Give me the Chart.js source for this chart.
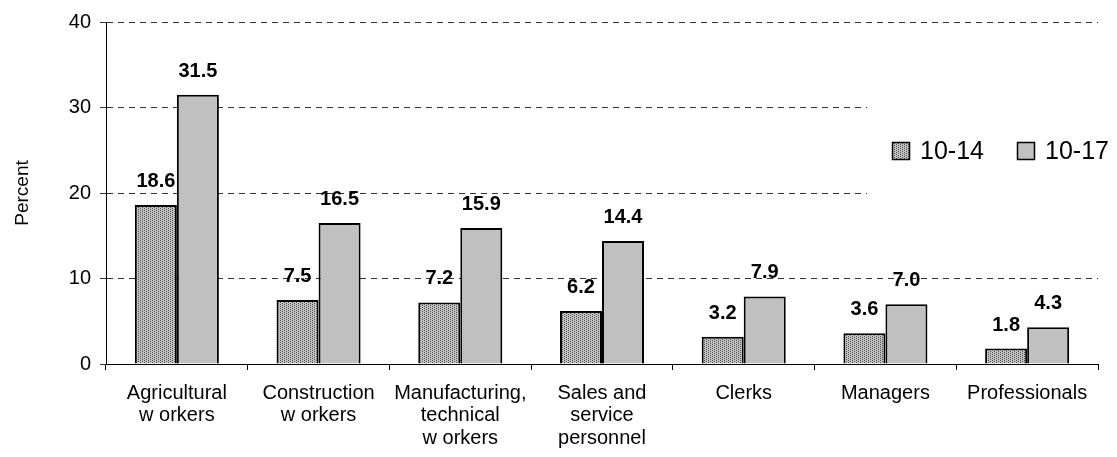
<!DOCTYPE html>
<html>
<head>
<meta charset="utf-8">
<script src="https://cdn.jsdelivr.net/npm/chart.js@4.4.0/dist/chart.umd.min.js"></script>
<style>
  html, body { margin: 0; padding: 0; background: #fff; }
  #wrap { width: 1117px; height: 457px; }
</style>
</head>
<body>
<div id="wrap"><canvas id="jobChart" width="1117" height="457"></canvas></div>
<script>
// Occupation groups and share of working children per age band
const categories = [
  ["Agricultural", "w orkers"],
  ["Construction", "w orkers"],
  ["Manufacturing,", "technical", "w orkers"],
  ["Sales and", "service", "personnel"],
  "Clerks",
  "Managers",
  "Professionals",
];
const ages10to14 = [18.6, 7.5, 7.2, 6.2, 3.2, 3.6, 1.8];
const ages10to17 = [31.5, 16.5, 15.9, 14.4, 7.9, 7.0, 4.3];
const seriesNames = ["10-14", "10-17"];
const yTicks = [0, 10, 20, 30, 40];

const FONT = "Arial, 'Liberation Sans', sans-serif";

// staggered dot fill for the younger age band
function makeStipple() {
  const c = document.createElement("canvas");
  c.width = 4;
  c.height = 2;
  const g = c.getContext("2d");
  g.fillStyle = "#c2c2c2";
  g.fillRect(0, 0, 4, 2);
  g.fillStyle = "#505050";
  g.fillRect(0, 0, 1, 1);
  g.fillRect(2, 1, 1, 1);
  return g.createPattern(c, "repeat");
}
const stipple = makeStipple();
const fills = [stipple, "#c0c0c0"];

// value labels above each bar
const barLabels = {
  id: "barLabels",
  afterDatasetsDraw(chart) {
    const ctx = chart.ctx;
    ctx.save();
    ctx.font = "bold 20px " + FONT;
    ctx.fillStyle = "#000";
    ctx.textAlign = "center";
    ctx.textBaseline = "alphabetic";
    chart.data.datasets.forEach((ds, i) => {
      chart.getDatasetMeta(i).data.forEach((bar, j) => {
        ctx.fillText(ds.data[j].toFixed(1), bar.x, bar.y - 18);
      });
    });
    ctx.restore();
  },
};

// boxed legend on the right, painted over the grid
const sideLegend = {
  id: "sideLegend",
  afterDraw(chart) {
    const ctx = chart.ctx;
    ctx.save();
    ctx.fillStyle = "#fff";
    ctx.fillRect(867, 60, 250, 180);
    ctx.font = "25px " + FONT;
    ctx.textBaseline = "middle";
    ctx.textAlign = "left";
    const xs = [892, 1017];
    seriesNames.forEach((name, i) => {
      ctx.fillStyle = fills[i];
      ctx.fillRect(xs[i], 142, 18, 18);
      ctx.strokeStyle = "#000";
      ctx.lineWidth = 1.5;
      ctx.strokeRect(xs[i] + 0.5, 142.5, 17, 17);
      ctx.fillStyle = "#000";
      ctx.fillText(name, xs[i] + 28, 152);
    });
    ctx.restore();
  },
};

new Chart(document.getElementById("jobChart"), {
  type: "bar",
  data: {
    labels: categories,
    datasets: [
      {
        label: seriesNames[0],
        data: ages10to14,
        backgroundColor: fills[0],
        borderColor: "#000",
        borderWidth: 2,
      },
      {
        label: seriesNames[1],
        data: ages10to17,
        backgroundColor: fills[1],
        borderColor: "#000",
        borderWidth: 2,
      },
    ],
  },
  options: {
    responsive: false,
    animation: false,
    events: [],
    categoryPercentage: 0.593,
    barPercentage: 1,
    layout: { padding: { left: 0, right: 19, top: 22, bottom: 0 } },
    plugins: {
      legend: { display: false },
      tooltip: { enabled: false },
    },
    scales: {
      x: {
        afterFit(scale) {
          scale.height = 93;
        },
        grid: {
          offset: true,
          drawOnChartArea: false,
          drawTicks: true,
          tickLength: 6,
          color: "#000",
        },
        border: { color: "#000", width: 1 },
        ticks: {
          color: "#000",
          font: { family: FONT, size: 20, lineHeight: 1.13 },
          padding: 12,
          maxRotation: 0,
          autoSkip: false,
        },
      },
      y: {
        min: 0,
        max: 40,
        afterFit(scale) {
          scale.width = 106;
        },
        afterBuildTicks(scale) {
          scale.ticks = yTicks.map((v) => ({ value: v }));
        },
        grid: {
          color: "#333",
          lineWidth: 1,
          tickLength: 6,
        },
        border: { color: "#000", width: 1, dash: [6, 5] },
        ticks: {
          color: "#000",
          font: { family: FONT, size: 20 },
          padding: 9,
        },
        title: {
          display: true,
          text: "Percent",
          color: "#000",
          font: { family: FONT, size: 19 },
          padding: { top: 11, bottom: 4 },
        },
      },
    },
  },
  plugins: [barLabels, sideLegend],
});
</script>
</body>
</html>
